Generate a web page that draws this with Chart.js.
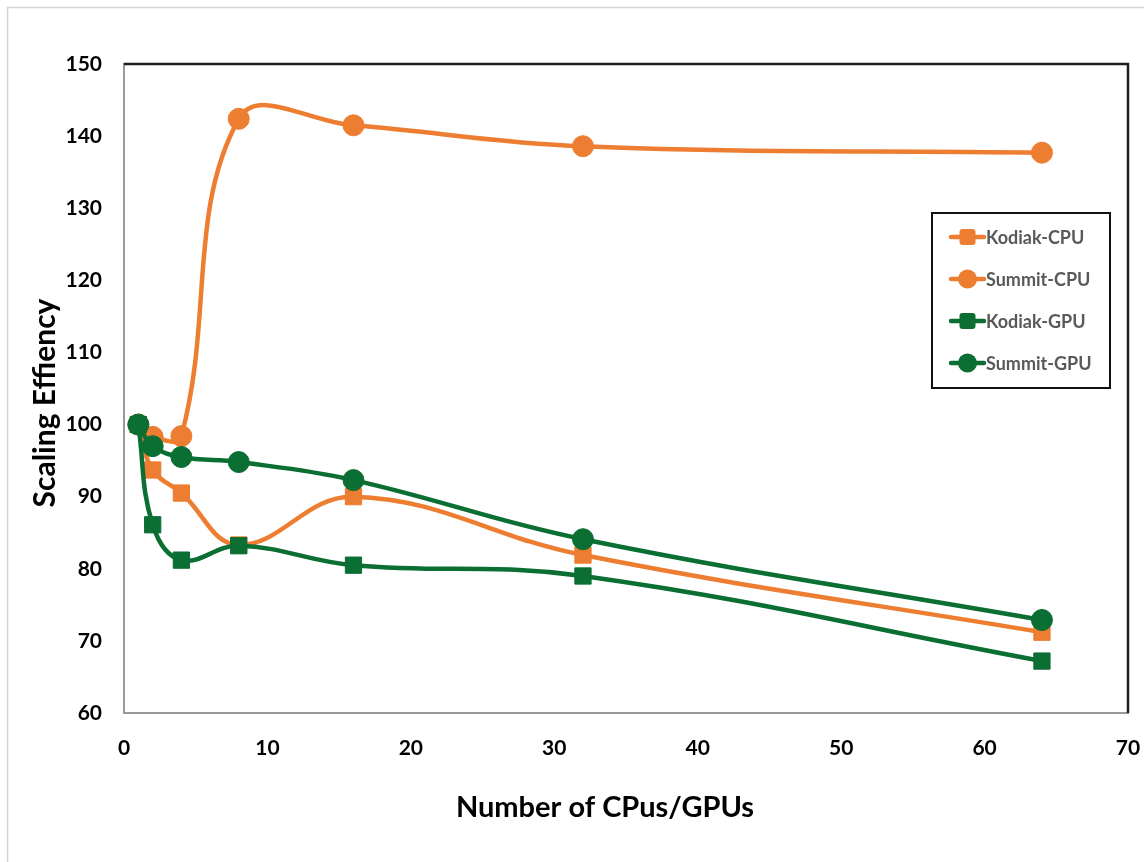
<!DOCTYPE html>
<html>
<head>
<meta charset="utf-8">
<script src="https://cdn.jsdelivr.net/npm/chart.js@4.4.0/dist/chart.umd.min.js"></script>
<style>
  html, body { margin: 0; padding: 0; background: #fff; }
  #wrap { width: 1144px; height: 862px; position: relative; }
</style>
</head>
<body>
<div id="wrap"><canvas id="c" width="1144" height="862"></canvas></div>
<script>
const xValues = [1, 2, 4, 8, 16, 32, 64];
const kodiakCPU = [100, 93.7, 90.5, 83.3, 90.0, 81.9, 71.2];
const summitCPU = [100, 98.3, 98.4, 142.4, 141.5, 138.6, 137.7];
const kodiakGPU = [100, 86.1, 81.2, 83.2, 80.5, 79.0, 67.2];
const summitGPU = [100, 97.0, 95.5, 94.8, 92.3, 84.1, 72.9];
const seriesNames = ['Kodiak-CPU', 'Summit-CPU', 'Kodiak-GPU', 'Summit-GPU'];
const xTitle = 'Number of CPus/GPUs';
const yTitle = 'Scaling Effiency';

const ORANGE = '#ED7D31';
const GREEN = '#0B6E33';
const FONT = 'Lato, "Open Sans", sans-serif';

function pts(arr) { return xValues.map((x, i) => ({ x: x, y: arr[i] })); }

function ds(label, data, color, style, radius, order) {
  return {
    label: label, data: pts(data), borderColor: color, backgroundColor: color,
    pointBackgroundColor: color, pointBorderColor: color, pointBorderWidth: 1,
    pointStyle: style, pointRadius: radius, pointHoverRadius: radius,
    borderWidth: 4.5, tension: 0.4, order: order, fill: false
  };
}

const frame = {
  id: 'frame',
  beforeDraw(chart) {
    const ctx = chart.ctx;
    ctx.save();
    ctx.fillStyle = '#fff';
    ctx.fillRect(0, 0, chart.width, chart.height);
    ctx.strokeStyle = '#d4d4d4';
    ctx.lineWidth = 1.5;
    ctx.beginPath();
    ctx.moveTo(7.5, chart.height);
    ctx.lineTo(7.5, 7.5);
    ctx.lineTo(chart.width, 7.5);
    ctx.stroke();
    ctx.restore();
  },
  afterDatasetsDraw(chart) {
    const ctx = chart.ctx;
    const a = chart.chartArea;
    ctx.save();
    ctx.strokeStyle = '#1e1e1e';
    ctx.lineWidth = 2.5;
    ctx.beginPath();
    ctx.moveTo(a.left, a.top);
    ctx.lineTo(a.right, a.top);
    ctx.lineTo(a.right, a.bottom);
    ctx.stroke();
    ctx.restore();
  },
  afterDraw(chart) {
    const ctx = chart.ctx;
    ctx.save();
    // axis titles
    ctx.fillStyle = '#000';
    ctx.textAlign = 'center';
    ctx.textBaseline = 'alphabetic';
    ctx.font = 'bold 29px ' + FONT;
    ctx.fillText(xTitle, 605, 817);
    ctx.save();
    ctx.translate(55, 403);
    ctx.rotate(-Math.PI / 2);
    ctx.font = 'bold 30px ' + FONT;
    ctx.fillText(yTitle, 0, 0);
    ctx.restore();

    // legend
    const bx = 932, by = 213, bw = 178, bh = 175;
    ctx.strokeStyle = '#111';
    ctx.lineWidth = 2;
    ctx.fillStyle = '#fff';
    ctx.fillRect(bx, by, bw, bh);
    ctx.strokeRect(bx, by, bw, bh);
    const rows = [237, 279, 321, 363];
    const sets = chart.data.datasets;
    ctx.font = 'bold 18px ' + FONT;
    ctx.textBaseline = 'middle';
    rows.forEach((ry, i) => {
      const d = sets[i];
      ctx.strokeStyle = d.borderColor;
      ctx.lineWidth = 4.5;
      ctx.lineCap = 'round';
      ctx.beginPath();
      ctx.moveTo(951, ry);
      ctx.lineTo(984, ry);
      ctx.stroke();
      ctx.fillStyle = d.borderColor;
      if (d.pointStyle === 'circle') {
        ctx.beginPath();
        ctx.arc(967.5, ry, 9.5, 0, Math.PI * 2);
        ctx.fill();
      } else {
        ctx.beginPath();
        ctx.roundRect(959.5, ry - 8, 16, 16, 3);
        ctx.fill();
      }
      ctx.fillStyle = '#595959';
      ctx.textAlign = 'left';
      ctx.fillText(d.label, 986, ry + 1);
    });
    ctx.restore();
  }
};

new Chart(document.getElementById('c'), {
  type: 'line',
  data: {
    datasets: [
      ds(seriesNames[0], kodiakCPU, ORANGE, 'rect', 11.5, 4),
      ds(seriesNames[1], summitCPU, ORANGE, 'circle', 10.5, 3),
      ds(seriesNames[2], kodiakGPU, GREEN, 'rect', 11.5, 2),
      ds(seriesNames[3], summitGPU, GREEN, 'circle', 10.5, 1)
    ]
  },
  options: {
    responsive: false,
    animation: false,
    devicePixelRatio: 1,
    layout: { padding: { left: 0, right: 0, top: 64, bottom: 0 } },
    plugins: { legend: { display: false }, tooltip: { enabled: false } },
    scales: {
      x: {
        type: 'linear', min: 0, max: 70,
        ticks: { stepSize: 10, padding: 23, color: '#000', font: { family: FONT, size: 21, weight: 'bold' }, maxRotation: 0 },
        grid: { display: false, drawTicks: false },
        border: { display: true, color: '#9a9a9a', width: 2 },
        title: { display: false, text: xTitle },
        afterFit(s) { s.height = 149; s.paddingRight = 16; s.paddingLeft = 0; }
      },
      y: {
        type: 'linear', min: 60, max: 150,
        ticks: { stepSize: 10, padding: 22, color: '#000', font: { family: FONT, size: 21, weight: 'bold' } },
        grid: { display: false, drawTicks: false },
        border: { display: true, color: '#9a9a9a', width: 2 },
        title: { display: false, text: yTitle },
        afterFit(s) { s.width = 124; s.paddingTop = 0; s.paddingBottom = 0; }
      }
    }
  },
  plugins: [frame]
});
</script>
</body>
</html>
